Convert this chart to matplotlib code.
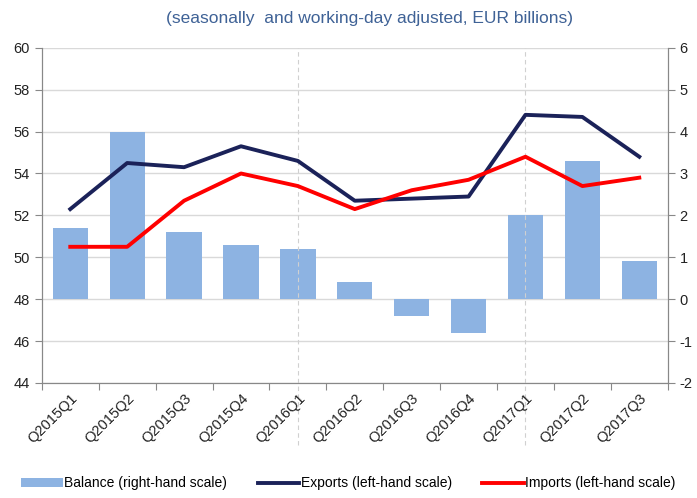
import numpy as np
import matplotlib
matplotlib.use('Agg')
import matplotlib.pyplot as plt

plt.rcParams['font.family'] = ['Liberation Sans', 'DejaVu Sans']
plt.rcParams['axes.unicode_minus'] = False

quarters = ['Q2015Q1', 'Q2015Q2', 'Q2015Q3', 'Q2015Q4', 'Q2016Q1', 'Q2016Q2',
            'Q2016Q3', 'Q2016Q4', 'Q2017Q1', 'Q2017Q2', 'Q2017Q3']
exports = [52.3, 54.5, 54.3, 55.3, 54.6, 52.7, 52.8, 52.9, 56.8, 56.7, 54.8]
imports = [50.5, 50.5, 52.7, 54.0, 53.4, 52.3, 53.2, 53.7, 54.8, 53.4, 53.8]
balance = [1.7, 4.0, 1.6, 1.3, 1.2, 0.4, -0.4, -0.8, 2.0, 3.3, 0.9]
left_ticks = [44, 46, 48, 50, 52, 54, 56, 58, 60]
right_ticks = [-2, -1, 0, 1, 2, 3, 4, 5, 6]

x = np.arange(len(quarters))

fig = plt.figure(figsize=(6.97, 4.98), dpi=100)
ax = fig.add_axes([0.060, 0.231, 0.898, 0.673])
ax2 = ax.twinx()

# bars on the right axis, behind the lines
ax2.bar(x, balance, width=0.62, color='#8DB3E2', zorder=2, label='Balance (right-hand scale)')
ax2.set_ylim(-2, 6)
ax2.set_yticks(right_ticks)
ax2.grid(axis='y', color='#D9D9D9', linewidth=1, zorder=0)
ax2.set_axisbelow(True)

ax.set_zorder(ax2.get_zorder() + 1)
ax.patch.set_visible(False)
ax.plot(x, exports, color='#1B2259', linewidth=2.8, label='Exports (left-hand scale)')
ax.plot(x, imports, color='#FF0000', linewidth=2.8, label='Imports (left-hand scale)')
ax.set_ylim(44, 60)
ax.set_yticks(left_ticks)
ax.set_xlim(-0.5, len(quarters) - 0.5)

# year separators
for q in ['Q2016Q1', 'Q2017Q1']:
    ax.axvline(quarters.index(q), ymin=-0.185, ymax=1, color='#D0D0D0',
               linestyle=(0, (4, 3)), linewidth=0.8, clip_on=False, zorder=0)

ax.set_xticks(np.arange(-0.5, len(quarters)), minor=False)
ax.set_xticklabels([])
ax.set_xticks(x, minor=True)
ax.set_xticklabels(quarters, minor=True, rotation=45, ha='right', rotation_mode='anchor',
                   fontsize=10.5, color='#222222')
ax.tick_params(axis='x', which='minor', length=0, pad=6)
ax.tick_params(axis='x', which='major', length=5, color='#888888', direction='out')

for a in (ax, ax2):
    a.tick_params(axis='y', labelsize=10.5, labelcolor='#222222', color='#888888', length=5)
    for s in a.spines.values():
        s.set_color('#888888')
    a.spines['top'].set_visible(False)

fig.text(0.53, 0.962, '(seasonally  and working-day adjusted, EUR billions)',
         ha='center', va='center', fontsize=12.5, color='#3F6296')

h1, l1 = ax2.get_legend_handles_labels()
h2, l2 = ax.get_legend_handles_labels()
fig.legend(h1 + h2, l1 + l2, loc='lower center', bbox_to_anchor=(0.5, -0.01), ncol=3,
           frameon=False, fontsize=10, handlelength=3, columnspacing=2.2, handletextpad=0.1)

fig.savefig('out.png', dpi=100)
